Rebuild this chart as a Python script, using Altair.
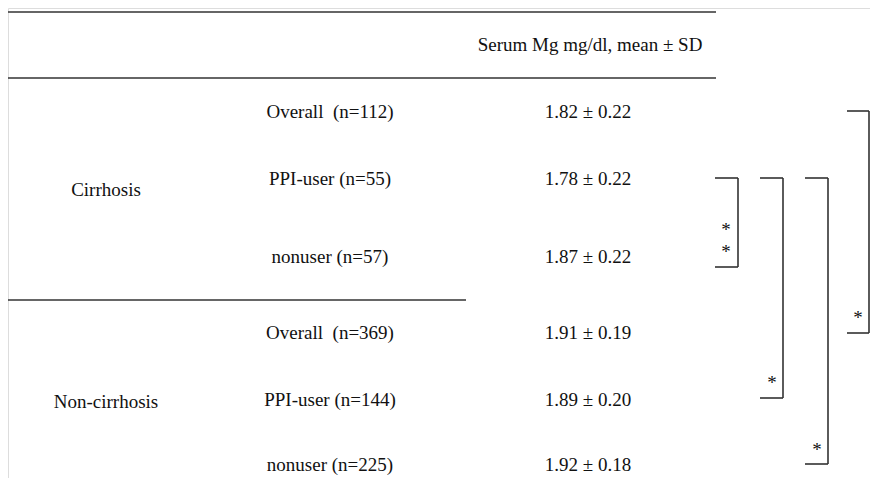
import altair as alt
import pandas as pd

# ---- data ----
groups = ["Cirrhosis", "Non-cirrhosis"]
row_labels = ["Overall\u00a0 (n=112)", "PPI-user (n=55)", "nonuser (n=57)",
              "Overall\u00a0 (n=369)", "PPI-user (n=144)", "nonuser (n=225)"]
means = [1.82, 1.78, 1.87, 1.91, 1.89, 1.92]
sds = [0.22, 0.22, 0.22, 0.19, 0.20, 0.18]
header = "Serum Mg mg/dl, mean ± SD"
# comparisons: (row a, row b, significance mark)
comparisons = [(1, 2, "**"), (1, 4, "*"), (1, 5, "*"), (0, 3, "*")]

# ---- layout (pixel positions) ----
row_y = [112, 179, 257, 333, 400, 465]
group_y = [190, 402]
col_x = [106, 330, 588]
header_xy = (590, 45)
rules = [  # x, x2, y
    (8, 716, 12), (8, 716, 78), (8, 466, 300)]
bracket_layout = [  # x_left, x_vertical, y_top, y_bottom, star_x, star_ys
    (715, 738, 178, 267, 726, [226, 248]),
    (760, 783, 178, 398, 772, [379]),
    (805, 828, 178, 464, 817, [446]),
    (847, 869, 111, 333, 858, [314]),
]

FONT = "Liberation Serif, Noto Sans CJK SC"
FS = 19
TXT = "#111111"
LINE = "#333333"

segs = []
for x, x2, y in rules:
    segs.append(dict(x=x, x2=x2, y=y, y2=y))
star_rows = []
for (a, b, sig), (xl, xv, yt, yb, sx, sys_) in zip(comparisons, bracket_layout):
    segs.append(dict(x=xl, x2=xv, y=yt, y2=yt))
    segs.append(dict(x=xv, x2=xv, y=yt, y2=yb))
    segs.append(dict(x=xl, x2=xv, y=yb, y2=yb))
    for sy in sys_:
        star_rows.append(dict(x=sx, y=sy, t="*"))
seg_df = pd.DataFrame(segs)

texts = []
texts.append(dict(x=header_xy[0], y=header_xy[1], t=header))
for g, gy in zip(groups, group_y):
    texts.append(dict(x=col_x[0], y=gy, t=g))
for lab, m, s, y in zip(row_labels, means, sds, row_y):
    texts.append(dict(x=col_x[1], y=y, t=lab))
    texts.append(dict(x=col_x[2], y=y, t=f"{m:.2f} ± {s:.2f}"))
text_df = pd.DataFrame(texts)
star_df = pd.DataFrame(star_rows)

xs = alt.X("x:Q", scale=alt.Scale(domain=[8, 870], nice=False, zero=False), axis=None)
ys = alt.Y("y:Q", scale=alt.Scale(domain=[8, 478], nice=False, zero=False, reverse=True), axis=None)

lines = alt.Chart(seg_df).mark_rule(color=LINE, strokeWidth=1.6).encode(
    x=xs, x2="x2:Q", y=ys, y2="y2:Q")

labels = alt.Chart(text_df).mark_text(
    font=FONT, fontSize=FS, color=TXT, align="center", baseline="middle").encode(
    x=xs, y=ys, text="t:N")

stars = alt.Chart(star_df).mark_text(
    font=FONT, fontSize=FS, color=TXT, align="center", baseline="middle", dy=4).encode(
    x=xs, y=ys, text="t:N")

chart = alt.layer(lines, labels, stars).properties(
    width=862, height=470, padding=0, autosize=alt.AutoSizeParams(type="none")
).configure_view(stroke="transparent", strokeWidth=0).configure(background="white")

chart.save("out.html", embed_options={"renderer": "svg", "actions": False})
